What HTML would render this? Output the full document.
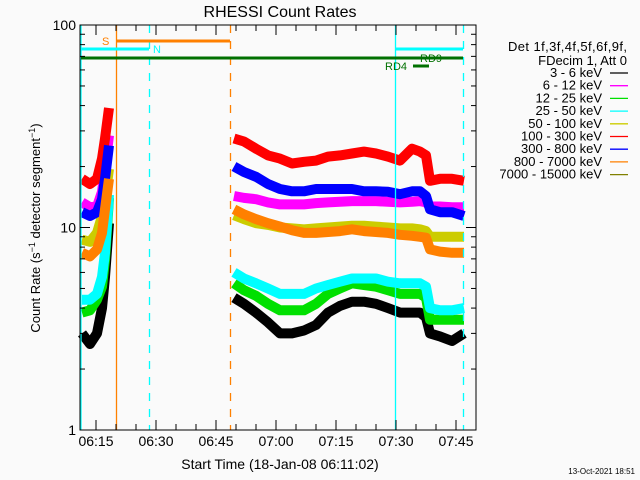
<!DOCTYPE html>
<html><head><meta charset="utf-8"><style>
body{margin:0;background:#fafafa;}
svg{display:block;font-family:"Liberation Sans",sans-serif;}
</style></head><body>
<svg id="chart" width="640" height="480" viewBox="0 0 640 480">
<rect width="640" height="480" fill="#fafafa"/>
<text x="280" y="17" font-size="16" text-anchor="middle" fill="#000">RHESSI Count Rates</text>
<g id="series"></g>
<g id="overlay"></g>
<g id="axes"></g>
<text transform="translate(40,228) rotate(-90)" font-size="13" text-anchor="middle">Count Rate (s<tspan baseline-shift="super" font-size="9">−1</tspan> detector segment<tspan baseline-shift="super" font-size="9">−1</tspan>)</text>
<text x="280" y="469" font-size="14" text-anchor="middle">Start Time (18-Jan-08 06:11:02)</text>
<text x="635" y="474" font-size="8" text-anchor="end">13-Oct-2021 18:51</text>
<g id="legend" font-size="13" text-anchor="end">
<text x="627" y="51" textLength="119">Det 1f,3f,4f,5f,6f,9f,</text>
<text x="627" y="65">FDecim 1, Att 0</text>
</g>
</svg>
<script>
// time in minutes after 06:00
const seg1Times=[11.5,13.5,15.25,16.5,17.25,18.25];
const seg2Times=[49.5,52,55,58,61,64,67,70,73,76,79,82,85,88,91,94,96,97.5,98.5,101,104,107];
const bandLabels=["3 - 6 keV","6 - 12 keV","12 - 25 keV","25 - 50 keV","50 - 100 keV","100 - 300 keV","300 - 800 keV","800 - 7000 keV","7000 - 15000 keV"];
const bandColors=["#000000","#ff00ff","#00e000","#00ffff","#cccc00","#ff0000","#0000ff","#ff8000","#808000"];
const seg1Values=[
 [3.0,2.66,3.0,4.0,5.7,10.5],
 [13.3,12.6,12.7,15.0,19.5,28.5],
 [3.8,3.9,4.4,5.1,6.9,14.0],
 [4.4,4.4,4.7,5.7,7.5,14.5],
 [8.7,8.5,9.4,11.4,13.8,19.5],
 [17.4,16.4,17.4,21.9,27.5,38.9],
 [11.9,11.4,11.9,13.8,17.4,25.4],
 [7.5,7.2,7.8,9.4,12.3,17.4],
 []
];
const seg2Values=[
 [4.5,4.2,3.8,3.4,3.0,3.0,3.1,3.3,3.8,4.1,4.3,4.3,4.2,4.0,3.8,3.8,3.8,3.6,3.0,2.9,2.75,3.0],
 [14.3,14.0,13.8,13.3,13.0,13.0,13.0,13.2,13.3,13.4,13.5,13.5,13.5,13.4,13.3,13.4,13.5,13.3,12.7,12.7,12.6,12.6],
 [5.3,4.9,4.6,4.2,3.9,3.9,3.9,4.2,4.7,5.0,5.3,5.2,5.1,4.9,4.7,4.7,4.7,4.5,3.5,3.5,3.5,3.5],
 [6.0,5.6,5.3,5.0,4.7,4.7,4.7,5.0,5.2,5.4,5.6,5.6,5.6,5.4,5.3,5.3,5.3,5.1,4.0,3.9,3.9,4.0],
 [11.5,11.0,10.5,10.3,10.0,9.9,9.8,9.9,10.0,10.1,10.2,10.2,10.1,10.0,9.9,9.9,9.8,9.6,9.0,9.0,9.0,9.0],
 [27.5,26.6,24.5,22.7,21.9,20.7,21.1,21.4,22.4,22.7,23.2,23.7,23.2,22.4,21.4,24.5,23.7,22.7,17.0,17.4,17.4,17.0],
 [20.0,18.8,17.8,16.4,15.5,15.1,15.1,15.5,15.5,15.5,15.5,15.1,15.1,15.0,14.6,15.1,15.1,14.3,12.3,11.9,11.9,11.4],
 [12.3,11.6,11.0,10.5,10.1,9.7,9.4,9.4,9.5,9.6,9.8,9.6,9.5,9.4,9.2,9.1,9.0,8.9,7.8,7.6,7.5,7.5],
 []
];
const yTickValues=[1,10,100];
const yTickLabels=["1","10","100"];
const xTickMinutes=[15,30,45,60,75,90,105];
const xTickLabels=["06:15","06:30","06:45","07:00","07:15","07:30","07:45"];

const L=80,R=476,T=25,B=430;
function xs(t){return 96+(t-15)*4;}
function ys(v){return B-(Math.log10(v))*(B-T)/2;}
const NS="http://www.w3.org/2000/svg";
function mk(tag,attrs,parent){const e=document.createElementNS(NS,tag);for(const k in attrs)e.setAttribute(k,attrs[k]);parent.appendChild(e);return e;}

const sg=document.getElementById('series');
for(let i=0;i<bandLabels.length;i++){
  [[seg1Times,seg1Values[i]],[seg2Times,seg2Values[i]]].forEach(function(p,j){
    if(!p[1].length)return;
    const pts=p[1].map((v,k)=>xs(p[0][k]).toFixed(1)+","+ys(v).toFixed(1)).join(" ");
    const pl=mk('polyline',{points:pts,fill:"none",stroke:bandColors[i],"stroke-width":10,"stroke-linejoin":"round"},sg);
    
    
  });
}

const ov=document.getElementById('overlay');
function vline(x,color,dash,name){const l=mk('line',{x1:x,x2:x,y1:T,y2:B,stroke:color,"stroke-width":1.3},ov);if(dash)l.setAttribute('stroke-dasharray','8,8');

}
vline(81,"#00ffff",false,"night-start-line");
vline(116.5,"#ff8000",false,"saa-start-line");
vline(149.5,"#00ffff",true,"night-end-line");
vline(230.5,"#ff8000",true,"saa-end-line");
vline(395.5,"#00ffff",false,"night-start-line-2");
vline(463.5,"#00ffff",true,"night-end-line-2");
function hbar(x1,x2,y,color,w,name){const l=mk('line',{x1:x1,x2:x2,y1:y,y2:y,stroke:color,"stroke-width":w},ov);

}
hbar(116,230,41,"#ff8000",3,"saa-bar");
hbar(81,149,49,"#00ffff",3,"night-bar-1");
hbar(395,463,49,"#00ffff",3,"night-bar-2");
hbar(81,463,58,"#007000",3,"rd9-bar");
hbar(413,429,66,"#007000",3,"rd4-bar");
function lab(x,y,t,c,name){const e=mk('text',{x:x,y:y,fill:c,"font-size":11},ov);e.textContent=t;

}
lab(102,45,"S","#ff8000","saa-label");
lab(153,53,"N","#00ffff","night-label");
lab(420,62,"RD9","#007000","rd9-label");
lab(385,70,"RD4","#007000","rd4-label");

const ax=document.getElementById('axes');
const fr=mk('rect',{x:L,y:T,width:R-L,height:B-T,fill:"none",stroke:"#000","stroke-width":1},ax);


for(let d=0;d<2;d++){for(let m=2;m<=9;m++){const y=ys(m*Math.pow(10,d));
 mk('line',{x1:L,x2:L+5,y1:y,y2:y,stroke:"#000"},ax);mk('line',{x1:R-5,x2:R,y1:y,y2:y,stroke:"#000"},ax);}}
yTickValues.forEach(function(v,i){const y=ys(v);
 mk('line',{x1:L,x2:L+10,y1:y,y2:y,stroke:"#000"},ax);mk('line',{x1:R-10,x2:R,y1:y,y2:y,stroke:"#000"},ax);
 const t=mk('text',{x:L-4,y:y+5,"font-size":14,"text-anchor":"end"},ax);t.textContent=yTickLabels[i];
 
 });
for(let t=15;t<=105;t+=5){const x=xs(t);
 mk('line',{x1:x,x2:x,y1:B,y2:B-6,stroke:"#000"},ax);mk('line',{x1:x,x2:x,y1:T,y2:T+6,stroke:"#000"},ax);}
xTickMinutes.forEach(function(t,i){const x=xs(t);
 mk('line',{x1:x,x2:x,y1:B,y2:B-10,stroke:"#000"},ax);mk('line',{x1:x,x2:x,y1:T,y2:T+10,stroke:"#000"},ax);
 const e=mk('text',{x:x,y:B+16,"font-size":14,"text-anchor":"middle"},ax);e.textContent=xTickLabels[i];
 
 });

const lg=document.getElementById('legend');
bandLabels.forEach(function(lbl,i){const y=73+i*12.7;
 const t=mk('text',{x:602,y:y+4},lg);t.textContent=lbl;
 
 
 const l=mk('line',{x1:610,x2:628,y1:y,y2:y,stroke:bandColors[i],"stroke-width":1.3},lg);
 
 });
</script>
</body></html>
